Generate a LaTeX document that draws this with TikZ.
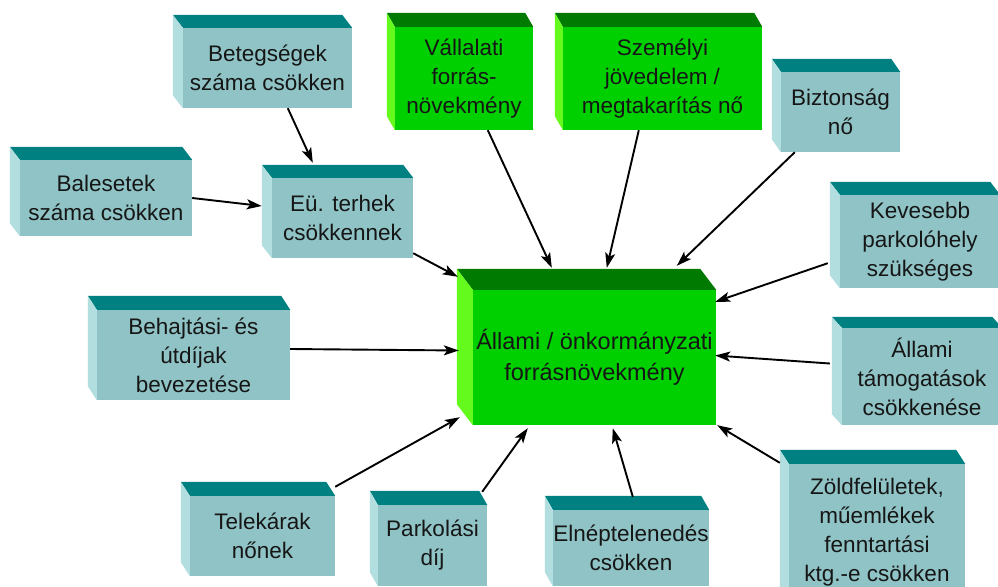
\documentclass[tikz,border=0pt]{standalone}
\usepackage{fontspec}
\setmainfont{Liberation Sans}
\usetikzlibrary{calc,arrows.meta}

\definecolor{tealfront}{RGB}{143,195,197}
\definecolor{tealtop}{RGB}{0,128,128}
\definecolor{tealside}{RGB}{178,222,224}
\definecolor{greenfront}{RGB}{0,208,0}
\definecolor{greentop}{RGB}{0,122,0}
\definecolor{greenside}{RGB}{100,250,30}
\definecolor{labeltext}{RGB}{22,22,22}

% top and left faces of a cuboid whose front face is node #1
\newcommand\cubefaces[4]{%
  \fill[#2top] (#1.north west) -- (#1.north east) -- ++(#3,#4)
    -- ($(#1.north west)+(#3,#4)$) -- cycle;
  \fill[#2side] (#1.north west) -- (#1.south west) -- ++(#3,#4)
    -- ($(#1.north west)+(#3,#4)$) -- cycle;
}

\tikzset{
  front/.style={inner sep=0pt, align=center, text=labeltext,
    font=\fontsize{22.5}{29}\selectfont},
  tealface/.style={front, fill=tealfront},
  greenface/.style={front, fill=greenfront},
  arr/.style={draw=black, line width=1.9pt,
    -{Stealth[length=15pt,width=10pt,inset=3.5pt]}},
}

\begin{document}
\begin{tikzpicture}[x=1pt,y=-1pt]
\useasboundingbox (0,0) rectangle (998,586);
\clip (0,0) rectangle (998,586);

% surrounding factors
\node[tealface, minimum width=169pt, minimum height=80pt] (bet) at (267.5,68) {Betegségek\\száma csökken};
\cubefaces{bet}{teal}{-10}{-13}
\node[tealface, minimum width=172pt, minimum height=76pt] (bal) at (106,198) {Balesetek\\száma csökken};
\cubefaces{bal}{teal}{-10}{-13}
\node[tealface, minimum width=141pt, minimum height=80pt] (eu) at (342.5,218) {Eü. terhek\\csökkennek};
\cubefaces{eu}{teal}{-10}{-13}
\node[greenface, minimum width=138pt, minimum height=103pt] (val) at (464,78.5) {Vállalati\\forrás-\\növekmény};
\cubefaces{val}{green}{-8}{-14}
\node[greenface, minimum width=199pt, minimum height=103pt] (sze) at (662.5,78.5) {Személyi\\jövedelem /\\megtakarítás nő};
\cubefaces{sze}{green}{-8}{-14}
\node[tealface, minimum width=119pt, minimum height=80pt] (biz) at (840.5,112) {Biztonság\\nő};
\cubefaces{biz}{teal}{-9}{-13}
\node[tealface, minimum width=160pt, minimum height=93pt] (kev) at (920,241.5) {Kevesebb\\parkolóhely\\szükséges};
\cubefaces{kev}{teal}{-10}{-13}
\node[tealface, minimum width=193pt, minimum height=90pt] (beh) at (193.5,355) {Behajtási- és\\útdíjak\\bevezetése};
\cubefaces{beh}{teal}{-9}{-14}
\node[tealface, minimum width=160pt, minimum height=97pt] (tam) at (922,376.5) {Állami\\támogatások\\csökkenése};
\cubefaces{tam}{teal}{-10}{-11}
\node[tealface, minimum width=145pt, minimum height=80pt] (tel) at (262.5,536) {Telekárak\\nőnek};
\cubefaces{tel}{teal}{-9}{-14}
\node[tealface, minimum width=109pt, minimum height=81pt] (par) at (432.5,545.5) {Parkolási\\díj};
\cubefaces{par}{teal}{-8}{-14}
\node[tealface, minimum width=156pt, minimum height=76pt] (eln) at (631,548) {Elnéptelenedés\\csökken};
\cubefaces{eln}{teal}{-8}{-14}
\node[tealface, minimum width=176pt, minimum height=137pt] (zol) at (877,532.5) {Zöldfelületek,\\műemlékek\\fenntartási\\ktg.-e csökken};
\cubefaces{zol}{teal}{-9}{-14}

% central outcome
\node[greenface, minimum width=243pt, minimum height=135pt,
  font=\fontsize{23.5}{31}\selectfont] (ctr) at (594.5,357.5) {Állami / önkormányzati\\forrásnövekmény};
\cubefaces{ctr}{green}{-16}{-21}

% connectors
\draw[arr] ($(bet.south west)+(105,0)$) -- ($(eu.north west)+(41,-15)$);
\draw[arr] (bal.east) -- ($(eu.west)+(-10,-12)$);
\draw[arr] ($(eu.south east)+(0,-5)$) -- ($(ctr.north west)+(-15,-13)$);
\draw[arr] ($(val.south west)+(93,0)$) -- ($(ctr.north west)+(79,-22)$);
\draw[arr] ($(sze.south west)+(76,0)$) -- ($(ctr.north west)+(134,-22)$);
\draw[arr] ($(biz.south west)+(14,0)$) -- ($(ctr.north west)+(204,-24)$);
\draw[arr] ($(kev.south west)+(-12,-25)$) -- ($(ctr.north east)+(-1,12)$);
\draw[arr] ($(beh.east)+(0,-6)$) -- ($(ctr.west)+(-14,-7)$);
\draw[arr] ($(tam.west)+(-12,-13)$) -- ($(ctr.east)+(-1,-2)$);
\draw[arr] ($(zol.north west)+(-9,-1)$) -- ($(ctr.south east)+(1,0)$);
\draw[arr] ($(eln.north west)+(80,-13)$) -- ($(ctr.south west)+(140,3)$);
\draw[arr] ($(par.north east)+(-5,-13)$) -- ($(ctr.south west)+(55,3)$);
\draw[arr] ($(tel.north east)+(0,-9)$) -- ($(ctr.south west)+(-13,-8)$);
\end{tikzpicture}
\end{document}
